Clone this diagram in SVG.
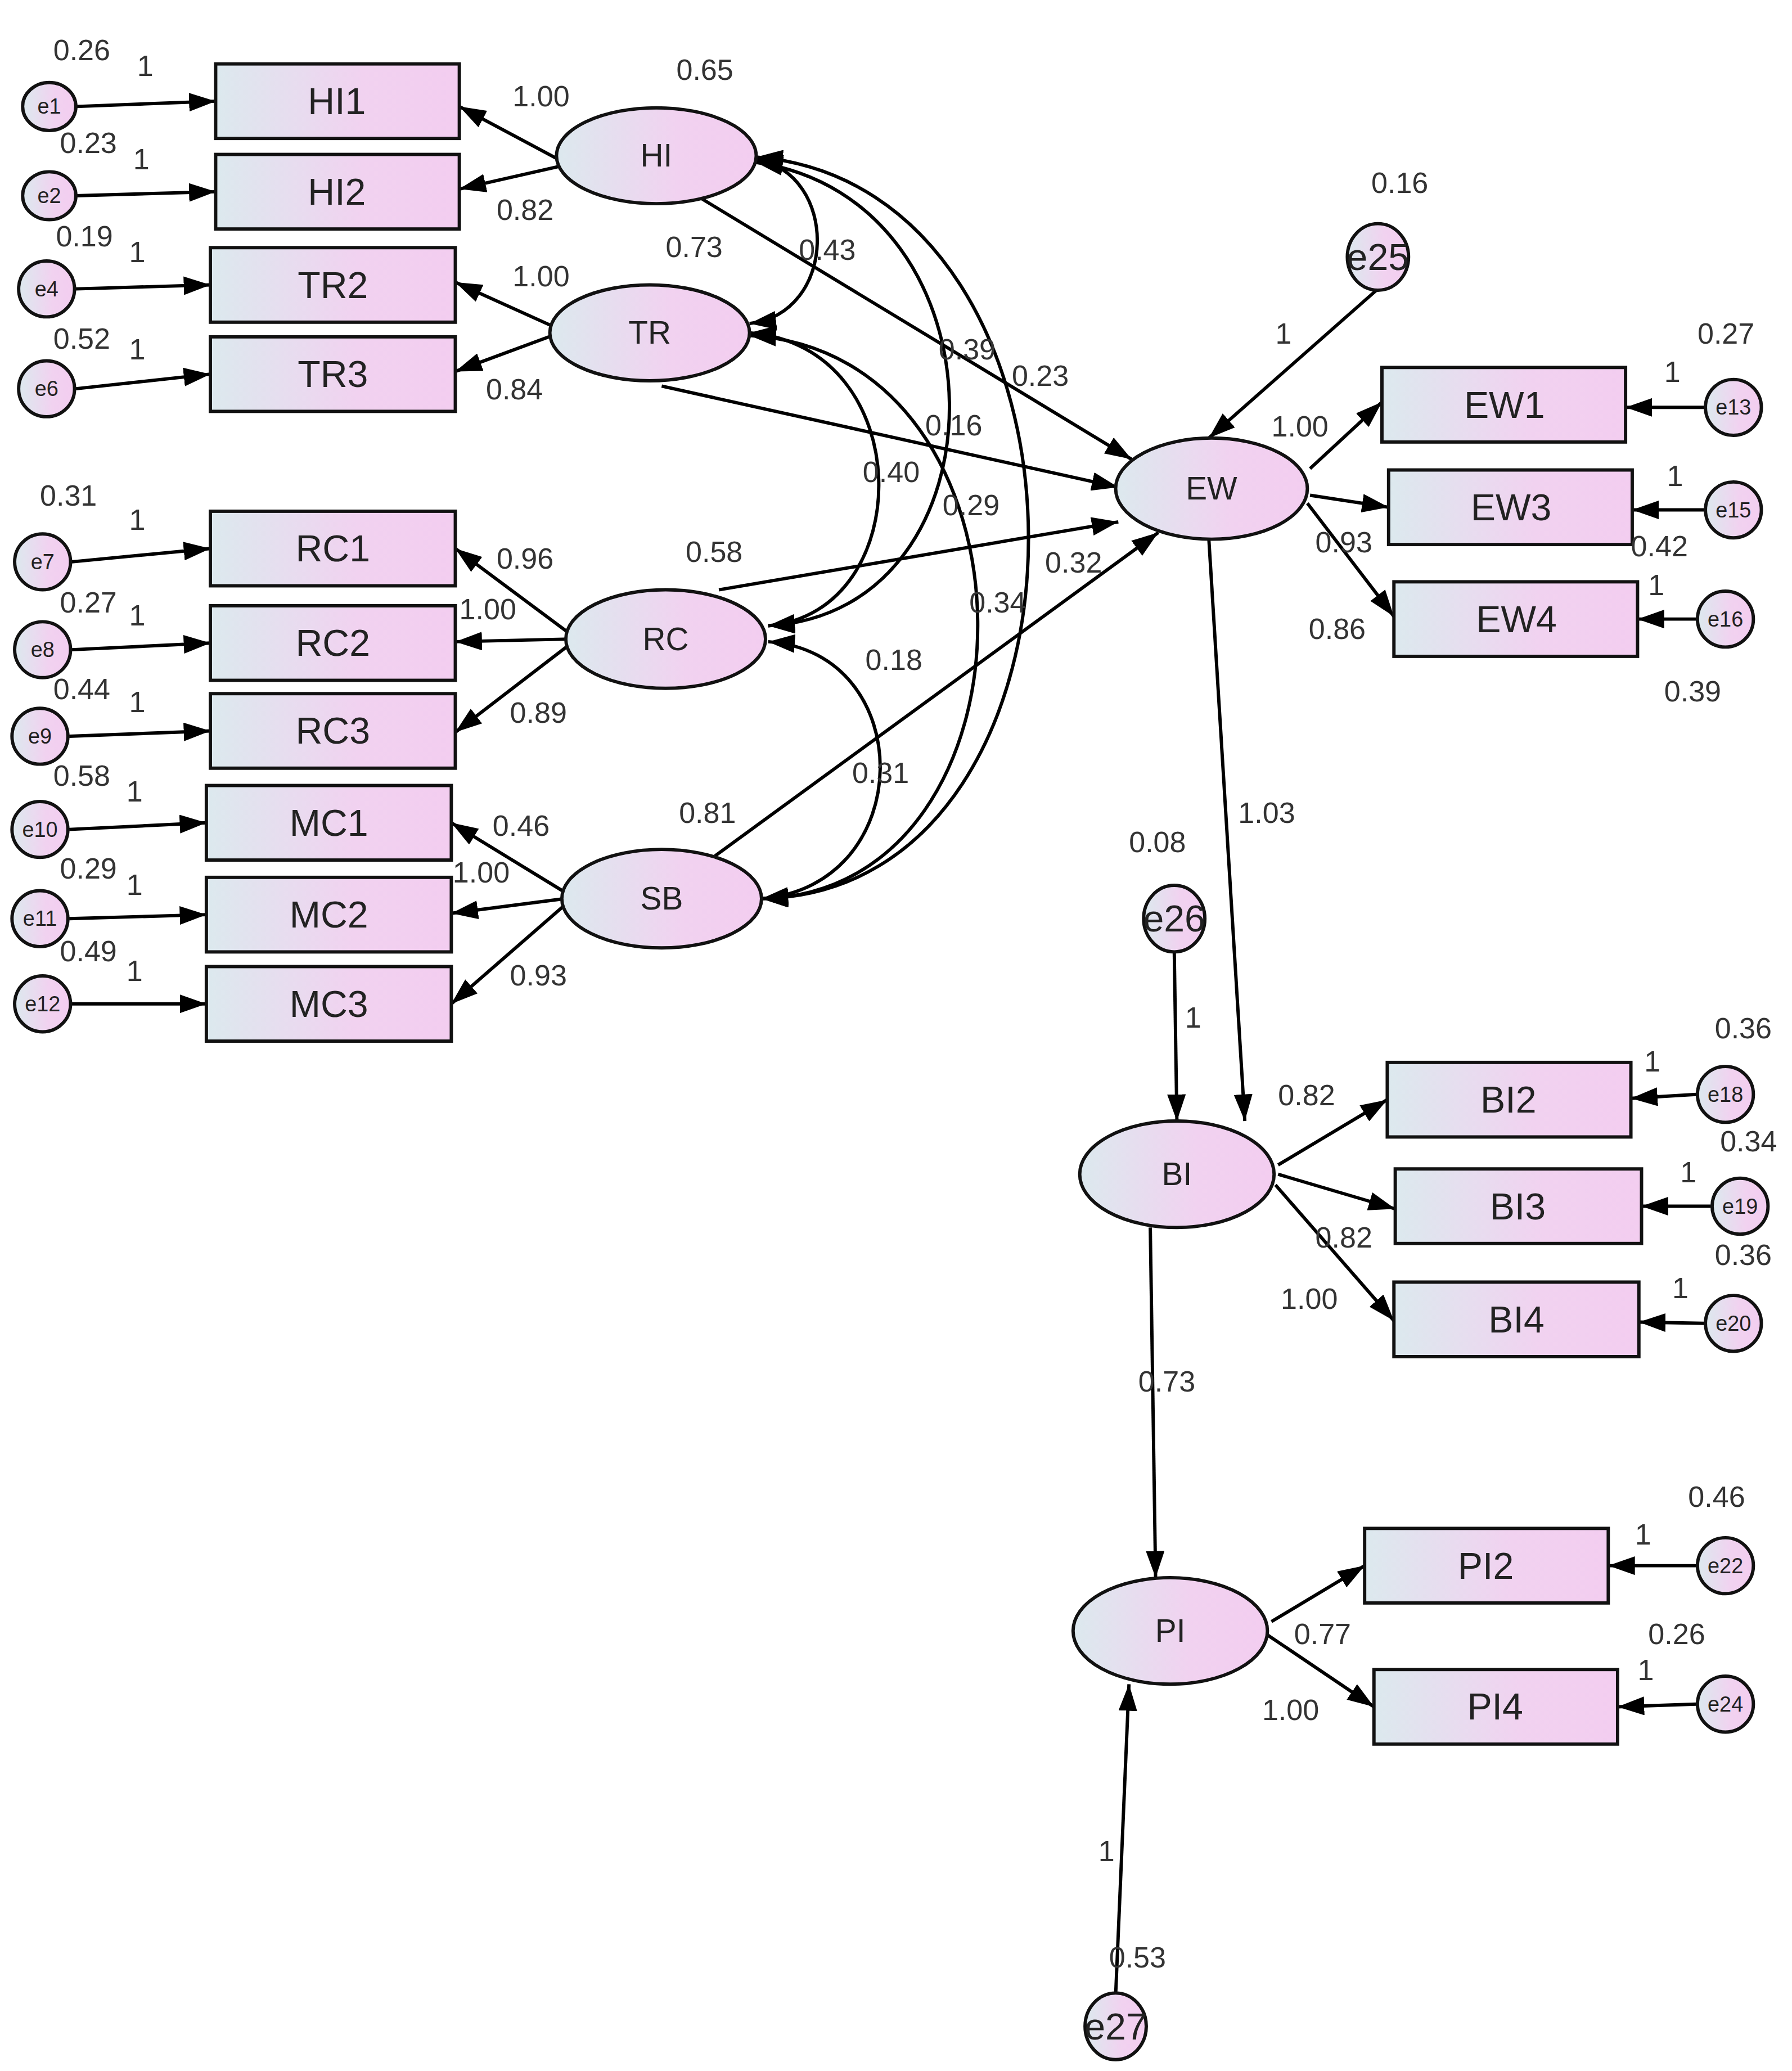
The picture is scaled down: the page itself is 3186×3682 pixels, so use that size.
<svg xmlns="http://www.w3.org/2000/svg" width="3186" height="3682" viewBox="0 0 3186 3682">
<defs>
<linearGradient id="g" x1="0" y1="0" x2="1" y2="0"><stop offset="0" stop-color="#dce9ee"/><stop offset="0.6" stop-color="#f1d2f0"/><stop offset="1" stop-color="#f3cdf0"/></linearGradient>
<marker id="a" markerUnits="userSpaceOnUse" viewBox="0 0 20 14" refX="20" refY="7" markerWidth="20" markerHeight="14" orient="auto-start-reverse"><path d="M0,0 L20,7 L0,14 z" fill="#000"/></marker>
<style>
.b{fill:url(#g);stroke:#111;stroke-width:2.5}
.bt{font-family:"Liberation Sans",Arial,sans-serif;font-size:28px;fill:#222;text-anchor:middle;dominant-baseline:central}
.et{font-family:"Liberation Sans",Arial,sans-serif;font-size:16px;fill:#222;text-anchor:middle;dominant-baseline:central}
.eb{font-family:"Liberation Sans",Arial,sans-serif;font-size:28px;fill:#222;text-anchor:middle;dominant-baseline:central}
.lt{font-family:"Liberation Sans",Arial,sans-serif;font-size:22px;fill:#333}
.c path,.c line{stroke:#000;stroke-width:2.5;fill:none;marker-end:url(#a)}
.c .d{marker-start:url(#a)}
</style>
</defs>
<rect width="3186" height="3682" fill="#fff"/>
<g transform="scale(2.367)">
<g class="c" id="connectors">
<line x1="57" y1="80" x2="162" y2="76"/><line x1="57" y1="147" x2="162" y2="144"/>
<line x1="57" y1="217" x2="158" y2="214"/><line x1="57" y1="292" x2="158" y2="281"/>
<line x1="54" y1="422" x2="158" y2="412"/><line x1="54" y1="488" x2="158" y2="483"/>
<line x1="52" y1="553" x2="158" y2="549"/><line x1="52" y1="623" x2="155" y2="618"/>
<line x1="52" y1="690" x2="155" y2="687"/><line x1="54" y1="754" x2="155" y2="754"/>
<line x1="420" y1="120" x2="345" y2="80"/><line x1="420" y1="125" x2="345" y2="142"/>
<line x1="415" y1="245" x2="342" y2="212"/><line x1="415" y1="252" x2="342" y2="279"/>
<line x1="428" y1="476" x2="342" y2="412"/><line x1="428" y1="480" x2="342" y2="482"/>
<line x1="428" y1="484" x2="342" y2="550"/>
<line x1="424" y1="670" x2="339" y2="618"/><line x1="424" y1="675" x2="339" y2="686"/>
<line x1="424" y1="680" x2="339" y2="754"/>
<line x1="525" y1="148" x2="850" y2="345"/><line x1="497" y1="290" x2="840" y2="366"/>
<line x1="540" y1="443" x2="840" y2="392"/><line x1="537" y1="643" x2="870" y2="400"/>
<line x1="1035" y1="217" x2="908" y2="329"/>
<line x1="984" y1="352" x2="1038" y2="302"/><line x1="984" y1="372" x2="1043" y2="381"/>
<line x1="982" y1="378" x2="1047" y2="463"/>
<line x1="908" y1="405" x2="935" y2="842"/><line x1="882" y1="714" x2="884" y2="842"/>
<line x1="960" y1="875" x2="1042" y2="826"/><line x1="960" y1="882" x2="1048" y2="908"/>
<line x1="958" y1="890" x2="1047" y2="992"/>
<line x1="864" y1="922" x2="868" y2="1185"/><line x1="838" y1="1498" x2="848" y2="1265"/>
<line x1="955" y1="1218" x2="1025" y2="1176"/><line x1="952" y1="1228" x2="1032" y2="1282"/>
<line x1="1280" y1="306" x2="1221" y2="306"/><line x1="1280" y1="383" x2="1226" y2="383"/>
<line x1="1274" y1="465" x2="1230" y2="465"/><line x1="1274" y1="822" x2="1225" y2="825"/>
<line x1="1285" y1="906" x2="1233" y2="906"/><line x1="1280" y1="994" x2="1231" y2="993"/>
<line x1="1274" y1="1176" x2="1208" y2="1176"/><line x1="1274" y1="1280" x2="1215" y2="1282"/>
<path class="d" d="M568,120 C630,130 630,235 563,243"/>
<path class="d" d="M568,122 C760,150 760,460 577,470"/>
<path class="d" d="M568,118 C840,140 840,670 572,675"/>
<path class="d" d="M563,250 C690,260 690,460 577,470"/>
<path class="d" d="M563,252 C790,265 790,670 572,675"/>
<path class="d" d="M577,482 C690,490 690,665 572,675"/>
</g>
<g id="HI1"><rect class="b" x="162" y="48" width="183" height="56"/><text class="bt" x="253" y="76">HI1</text></g>
<g id="HI2"><rect class="b" x="162" y="116" width="183" height="56"/><text class="bt" x="253" y="144">HI2</text></g>
<g id="TR2"><rect class="b" x="158" y="186" width="184" height="56"/><text class="bt" x="250" y="214">TR2</text></g>
<g id="TR3"><rect class="b" x="158" y="253" width="184" height="56"/><text class="bt" x="250" y="281">TR3</text></g>
<g id="RC1"><rect class="b" x="158" y="384" width="184" height="56"/><text class="bt" x="250" y="412">RC1</text></g>
<g id="RC2"><rect class="b" x="158" y="455" width="184" height="56"/><text class="bt" x="250" y="483">RC2</text></g>
<g id="RC3"><rect class="b" x="158" y="521" width="184" height="56"/><text class="bt" x="250" y="549">RC3</text></g>
<g id="MC1"><rect class="b" x="155" y="590" width="184" height="56"/><text class="bt" x="247" y="618">MC1</text></g>
<g id="MC2"><rect class="b" x="155" y="659" width="184" height="56"/><text class="bt" x="247" y="687">MC2</text></g>
<g id="MC3"><rect class="b" x="155" y="726" width="184" height="56"/><text class="bt" x="247" y="754">MC3</text></g>
<g id="EW1"><rect class="b" x="1038" y="276" width="183" height="56"/><text class="bt" x="1130" y="304">EW1</text></g>
<g id="EW3"><rect class="b" x="1043" y="353" width="183" height="56"/><text class="bt" x="1135" y="381">EW3</text></g>
<g id="EW4"><rect class="b" x="1047" y="437" width="183" height="56"/><text class="bt" x="1139" y="465">EW4</text></g>
<g id="BI2"><rect class="b" x="1042" y="798" width="183" height="56"/><text class="bt" x="1133" y="826">BI2</text></g>
<g id="BI3"><rect class="b" x="1048" y="878" width="185" height="56"/><text class="bt" x="1140" y="906">BI3</text></g>
<g id="BI4"><rect class="b" x="1047" y="963" width="184" height="56"/><text class="bt" x="1139" y="991">BI4</text></g>
<g id="PI2"><rect class="b" x="1025" y="1148" width="183" height="56"/><text class="bt" x="1116" y="1176">PI2</text></g>
<g id="PI4"><rect class="b" x="1032" y="1254" width="183" height="56"/><text class="bt" x="1123" y="1282">PI4</text></g>
<g id="HI"><ellipse class="b" cx="493" cy="117" rx="75" ry="36"/><text class="et" style="font-size:24px" x="493" y="117">HI</text></g>
<g id="TR"><ellipse class="b" cx="488" cy="250" rx="75" ry="36"/><text class="et" style="font-size:24px" x="488" y="250">TR</text></g>
<g id="RC"><ellipse class="b" cx="500" cy="480" rx="75" ry="37"/><text class="et" style="font-size:24px" x="500" y="480">RC</text></g>
<g id="SB"><ellipse class="b" cx="497" cy="675" rx="75" ry="37"/><text class="et" style="font-size:24px" x="497" y="675">SB</text></g>
<g id="EW"><ellipse class="b" cx="910" cy="367" rx="72" ry="38"/><text class="et" style="font-size:24px" x="910" y="367">EW</text></g>
<g id="BI"><ellipse class="b" cx="884" cy="882" rx="73" ry="40"/><text class="et" style="font-size:24px" x="884" y="882">BI</text></g>
<g id="PI"><ellipse class="b" cx="879" cy="1225" rx="73" ry="40"/><text class="et" style="font-size:24px" x="879" y="1225">PI</text></g>
<g id="e1"><ellipse class="b" cx="37" cy="80" rx="20" ry="18"/><text class="et" x="37" y="80">e1</text></g>
<g id="e2"><ellipse class="b" cx="37" cy="147" rx="20" ry="18"/><text class="et" x="37" y="147">e2</text></g>
<g id="e4"><ellipse class="b" cx="35" cy="217" rx="21" ry="21"/><text class="et" x="35" y="217">e4</text></g>
<g id="e6"><ellipse class="b" cx="35" cy="292" rx="21" ry="21"/><text class="et" x="35" y="292">e6</text></g>
<g id="e7"><ellipse class="b" cx="32" cy="422" rx="21" ry="21"/><text class="et" x="32" y="422">e7</text></g>
<g id="e8"><ellipse class="b" cx="32" cy="488" rx="21" ry="21"/><text class="et" x="32" y="488">e8</text></g>
<g id="e9"><ellipse class="b" cx="30" cy="553" rx="21" ry="21"/><text class="et" x="30" y="553">e9</text></g>
<g id="e10"><ellipse class="b" cx="30" cy="623" rx="21" ry="21"/><text class="et" x="30" y="623">e10</text></g>
<g id="e11"><ellipse class="b" cx="30" cy="690" rx="21" ry="21"/><text class="et" x="30" y="690">e11</text></g>
<g id="e12"><ellipse class="b" cx="32" cy="754" rx="21" ry="21"/><text class="et" x="32" y="754">e12</text></g>
<g id="e13"><ellipse class="b" cx="1302" cy="306" rx="21" ry="21"/><text class="et" x="1302" y="306">e13</text></g>
<g id="e15"><ellipse class="b" cx="1302" cy="383" rx="21" ry="21"/><text class="et" x="1302" y="383">e15</text></g>
<g id="e16"><ellipse class="b" cx="1296" cy="465" rx="21" ry="21"/><text class="et" x="1296" y="465">e16</text></g>
<g id="e18"><ellipse class="b" cx="1296" cy="822" rx="21" ry="21"/><text class="et" x="1296" y="822">e18</text></g>
<g id="e19"><ellipse class="b" cx="1307" cy="906" rx="21" ry="21"/><text class="et" x="1307" y="906">e19</text></g>
<g id="e20"><ellipse class="b" cx="1302" cy="994" rx="21" ry="21"/><text class="et" x="1302" y="994">e20</text></g>
<g id="e22"><ellipse class="b" cx="1296" cy="1176" rx="21" ry="21"/><text class="et" x="1296" y="1176">e22</text></g>
<g id="e24"><ellipse class="b" cx="1296" cy="1280" rx="21" ry="21"/><text class="et" x="1296" y="1280">e24</text></g>
<g id="e25"><ellipse class="b" cx="1035" cy="193" rx="23" ry="25"/><text class="eb" x="1035" y="193">e25</text></g>
<g id="e26"><ellipse class="b" cx="882" cy="690" rx="23" ry="25"/><text class="eb" x="882" y="690">e26</text></g>
<g id="e27"><ellipse class="b" cx="838" cy="1522" rx="23" ry="25"/><text class="eb" x="838" y="1522">e27</text></g>
<g id="labels" class="lt">
<text x="40" y="45">0.26</text><text x="103" y="57">1</text>
<text x="45" y="115">0.23</text><text x="100" y="127">1</text>
<text x="42" y="185">0.19</text><text x="97" y="197">1</text>
<text x="40" y="262">0.52</text><text x="97" y="270">1</text>
<text x="30" y="380">0.31</text><text x="97" y="398">1</text>
<text x="45" y="460">0.27</text><text x="97" y="470">1</text>
<text x="40" y="525">0.44</text><text x="97" y="535">1</text>
<text x="40" y="590">0.58</text><text x="95" y="602">1</text>
<text x="45" y="660">0.29</text><text x="95" y="672">1</text>
<text x="45" y="722">0.49</text><text x="95" y="737">1</text>
<text x="508" y="60">0.65</text><text x="385" y="80">1.00</text><text x="373" y="165">0.82</text>
<text x="500" y="193">0.73</text><text x="385" y="215">1.00</text><text x="365" y="300">0.84</text>
<text x="373" y="427">0.96</text><text x="345" y="465">1.00</text><text x="383" y="543">0.89</text>
<text x="515" y="422">0.58</text><text x="370" y="628">0.46</text><text x="340" y="663">1.00</text>
<text x="383" y="740">0.93</text><text x="510" y="618">0.81</text>
<text x="600" y="195">0.43</text><text x="705" y="270">0.39</text><text x="760" y="290">0.23</text>
<text x="695" y="327">0.16</text><text x="648" y="362">0.40</text><text x="708" y="387">0.29</text>
<text x="785" y="430">0.32</text><text x="728" y="460">0.34</text><text x="650" y="503">0.18</text>
<text x="640" y="588">0.31</text>
<text x="1030" y="145">0.16</text><text x="958" y="258">1</text><text x="955" y="328">1.00</text>
<text x="1275" y="258">0.27</text><text x="1250" y="287">1</text><text x="1252" y="365">1</text>
<text x="988" y="415">0.93</text><text x="1225" y="418">0.42</text><text x="1238" y="447">1</text>
<text x="983" y="480">0.86</text><text x="1250" y="527">0.39</text>
<text x="930" y="618">1.03</text><text x="848" y="640">0.08</text><text x="890" y="772">1</text>
<text x="960" y="830">0.82</text><text x="1288" y="780">0.36</text><text x="1235" y="805">1</text>
<text x="1292" y="865">0.34</text><text x="1262" y="888">1</text><text x="988" y="937">0.82</text>
<text x="1288" y="950">0.36</text><text x="962" y="983">1.00</text><text x="1256" y="975">1</text>
<text x="855" y="1045">0.73</text><text x="1268" y="1132">0.46</text><text x="1228" y="1160">1</text>
<text x="972" y="1235">0.77</text><text x="1238" y="1235">0.26</text><text x="1230" y="1262">1</text>
<text x="948" y="1292">1.00</text><text x="825" y="1398">1</text><text x="833" y="1478">0.53</text>
</g>
</g>
</svg>
